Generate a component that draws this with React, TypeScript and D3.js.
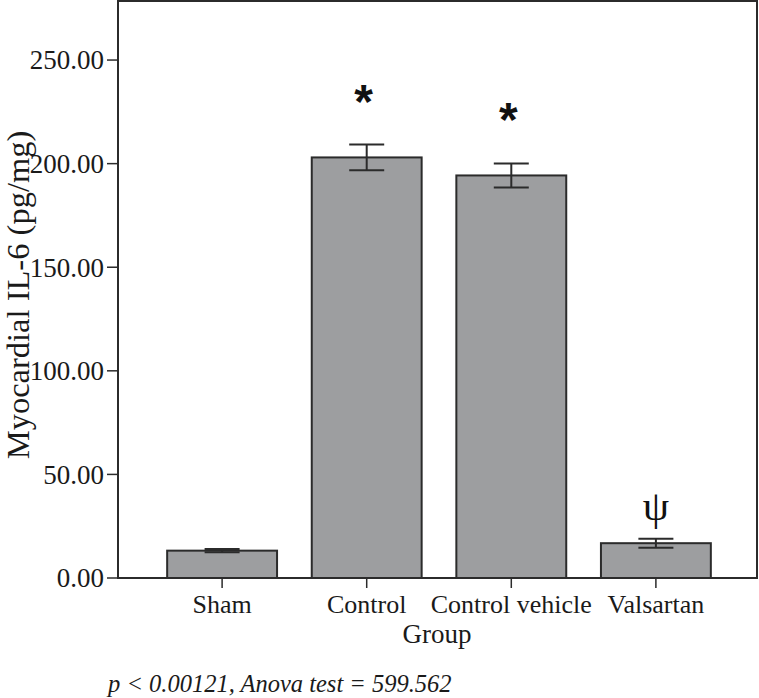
import { scaleLinear, scaleBand } from 'd3'

const GROUPS = ['Sham', 'Control', 'Control vehicle', 'Valsartan']
const MEANS = [13.2, 203.0, 194.3, 16.8]
const ERRORS = [0.8, 6.2, 5.8, 2.2]
const MARKS = ['', '*', '*', 'ψ']
const Y_TICKS = [0, 50, 100, 150, 200, 250]

export default function App() {
  const width = 759
  const height = 698
  const left = 118
  const right = 757
  const top = 1
  const bottom = 578

  const xScale = scaleBand()
    .domain(GROUPS)
    .range([left, 760])
    .paddingInner(0.24)
    .paddingOuter(0.34)

  const yScale = scaleLinear().domain([0, 278.5]).range([bottom, top])

  const bw = xScale.bandwidth()
  const capW = 35
  const serif = 'Liberation Serif, Tinos, DejaVu Serif, serif'

  return (
    <svg
      width={width}
      height={height}
      style={{ position: 'absolute', left: 0, top: 0, background: '#fff', fontFamily: serif }}
    >
      {/* Bars */}
      {GROUPS.map((g, i) => {
        const x = xScale(g)!
        const cx = x + bw / 2
        const yTop = yScale(MEANS[i] + ERRORS[i])
        const yBot = yScale(MEANS[i] - ERRORS[i])
        return (
          <g key={g}>
            <rect
              x={x}
              y={yScale(MEANS[i])}
              width={bw}
              height={bottom - yScale(MEANS[i])}
              fill='#9d9ea0'
              stroke='#2b2b2b'
              strokeWidth={2}
            />
            <line x1={cx} x2={cx} y1={yTop} y2={yBot} stroke='#2b2b2b' strokeWidth={2} />
            <line x1={cx - capW / 2} x2={cx + capW / 2} y1={yTop} y2={yTop} stroke='#2b2b2b' strokeWidth={2} />
            <line x1={cx - capW / 2} x2={cx + capW / 2} y1={yBot} y2={yBot} stroke='#2b2b2b' strokeWidth={2} />
            {MARKS[i] === '*' && (
              <text
                x={cx - 3}
                y={yTop - 27}
                textAnchor='middle'
                style={{ fontFamily: 'Liberation Sans, Arial, sans-serif' }}
                fontWeight='bold'
                fontSize={48}
                fill='#111'
              >
                *
              </text>
            )}
            {MARKS[i] === 'ψ' && (
              <text
                x={cx}
                y={yTop - 19}
                textAnchor='middle'
                fontSize={42}
                fill='#111'
              >
                {MARKS[i]}
              </text>
            )}
            {/* x tick */}
            <line x1={cx} x2={cx} y1={bottom} y2={bottom + 10} stroke='#2b2b2b' strokeWidth={1.5} />
            <text
              x={cx}
              y={bottom + 35}
              textAnchor='middle'
              fontSize={26}
              fill='#1a1a1a'
            >
              {g}
            </text>
          </g>
        )
      })}

      {/* Frame */}
      <rect
        x={left}
        y={top}
        width={right - left}
        height={bottom - top}
        fill='none'
        stroke='#2b2b2b'
        strokeWidth={2}
      />

      {/* Y axis */}
      {Y_TICKS.map((t) => (
        <g key={t} transform={`translate(0, ${yScale(t)})`}>
          <line x1={left - 11} x2={left} stroke='#2b2b2b' strokeWidth={1.5} />
          <text
            x={left - 14}
            dy='0.35em'
            textAnchor='end'
            fontSize={27}
            fill='#1a1a1a'
          >
            {t.toFixed(2)}
          </text>
        </g>
      ))}

      <text
        transform={`translate(29, ${295}) rotate(-90)`}
        textAnchor='middle'
        fontSize={32.5}
        fill='#1a1a1a'
      >
        Myocardial IL-6 (pg/mg)
      </text>

      <text x={437} y={643} textAnchor='middle' fontSize={27} fill='#1a1a1a'>
        Group
      </text>

      <text x={108} y={692} fontStyle='italic' fontSize={24.5} fill='#1a1a1a'>
        p &lt; 0.00121, Anova test = 599.562
      </text>
    </svg>
  )
}
